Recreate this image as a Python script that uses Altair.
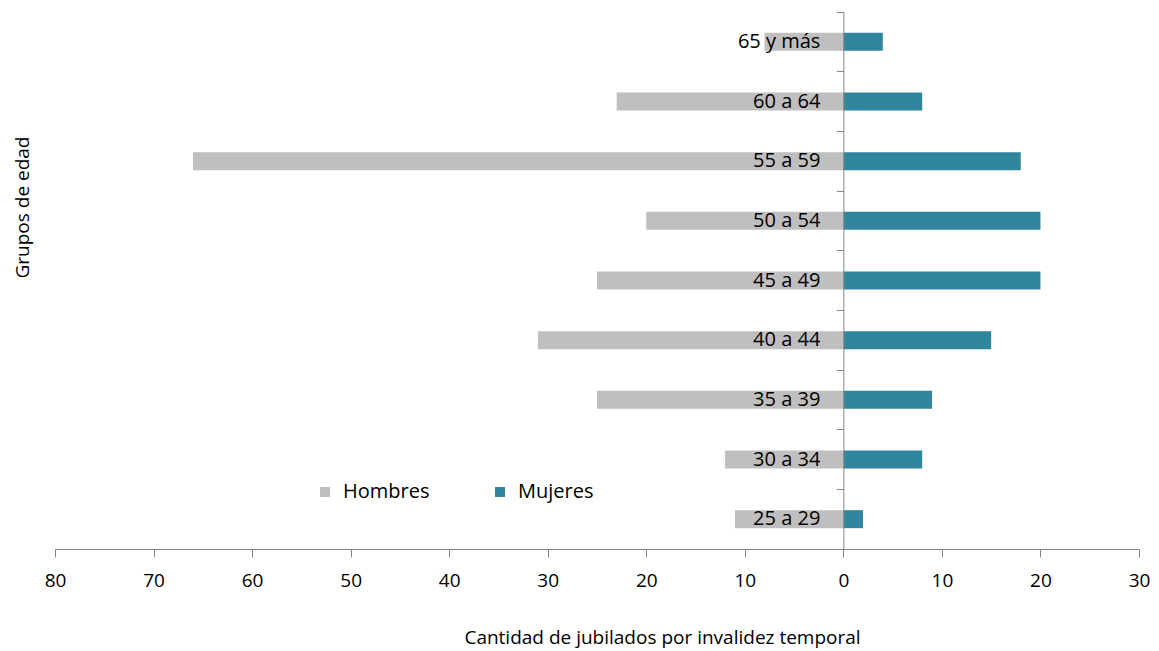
import altair as alt
import pandas as pd

categorias = ["65 y más", "60 a 64", "55 a 59", "50 a 54", "45 a 49",
              "40 a 44", "35 a 39", "30 a 34", "25 a 29"]
hombres = [8, 23, 66, 20, 25, 31, 25, 12, 11]
mujeres = [4, 8, 18, 20, 20, 15, 9, 8, 2]
x_ticks = list(range(-80, 31, 10))

rows = []
for c, h, m in zip(categorias, hombres, mujeres):
    rows.append({"grupo": c, "sexo": "Hombres", "valor": -h})
    rows.append({"grupo": c, "sexo": "Mujeres", "valor": m})
df = pd.DataFrame(rows)
df_lab = pd.DataFrame({"grupo": categorias})

FONT = "Open Sans"
GRAY = "#868686"
W, H = 1084, 537
ZERO_OFF = W * 80 / 110

y_enc = alt.Y(
    "grupo:N",
    sort=categorias,
    scale=alt.Scale(paddingInner=0, paddingOuter=0),
    axis=alt.Axis(
        title="Grupos de edad", labels=False, offset=-ZERO_OFF, bandPosition=0,
        tickSize=7, tickColor=GRAY, domainColor=GRAY, grid=False, zindex=1,
        titleX=-821, titleY=195, titleAngle=270, titleAlign="center",
        titleBaseline="middle", titleFontSize=19, titleFontWeight="normal",
        titleFont=FONT, titleColor="#000000",
    ),
)

bars = alt.Chart(df).mark_bar(size=18).encode(
    x=alt.X(
        "valor:Q",
        scale=alt.Scale(domain=[-80, 30], nice=False, zero=False),
        axis=alt.Axis(
            values=x_ticks, labelExpr="abs(datum.value)", tickSize=8,
            labelPadding=14, labelFlush=False, domainColor=GRAY, tickColor=GRAY,
            grid=False, labelFontSize=19, labelFont=FONT, labelColor="#000000",
            title="Cantidad de jubilados por invalidez temporal",
            titleX=607, titleY=88, titleAlign="center", titleBaseline="middle",
            titleFontSize=19, titleFontWeight="normal", titleFont=FONT,
            titleColor="#000000",
        ),
    ),
    y=y_enc,
    color=alt.Color(
        "sexo:N",
        scale=alt.Scale(domain=["Hombres", "Mujeres"], range=["#BFBFBF", "#31859C"]),
        legend=alt.Legend(
            title=None, orient="none", legendX=260, legendY=470,
            direction="horizontal", symbolType="square", symbolSize=100,
            symbolStrokeWidth=0, labelFontSize=20, labelFont=FONT,
            labelColor="#000000", columnPadding=60, padding=0, labelOffset=8,
        ),
    ),
)

labels = alt.Chart(df_lab).mark_text(
    align="right", baseline="middle", dx=-23, fontSize=20, font=FONT, color="#000000"
).encode(
    x=alt.datum(0),
    y=alt.Y("grupo:N", sort=categorias),
    text="grupo:N",
)

chart = alt.layer(bars, labels).properties(
    width=W, height=H,
    autosize=alt.AutoSizeParams(type="none"),
    padding={"left": 47, "top": 4, "right": 12, "bottom": 100},
).configure_view(stroke=None)

chart.save("out.html", embed_options={"renderer": "svg", "actions": False})
